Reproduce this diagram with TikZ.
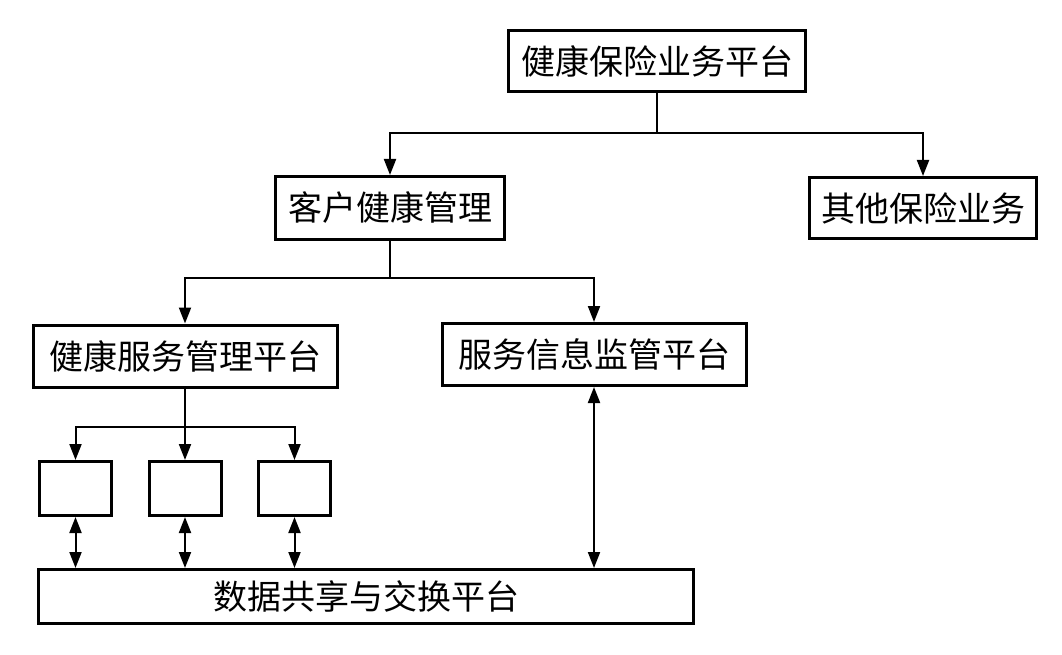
\documentclass[tikz,border=0pt]{standalone}
\usepackage{fontspec}
\setmainfont{Noto Sans CJK SC}
\usetikzlibrary{arrows.meta}
\begin{document}
\begin{tikzpicture}[x=1pt,y=-1pt,
  box/.style={draw,line width=3pt,inner sep=0pt,font=\fontsize{34}{36}\selectfont},
  conn/.style={line width=2pt},
  arr/.style={conn,-{Triangle[length=16pt,width=12pt]}},
  darr/.style={conn,{Triangle[length=16pt,width=12pt]}-{Triangle[length=16pt,width=12pt]}}]
\useasboundingbox (0,0) rectangle (1062,655);
\node[box,minimum width=297pt,minimum height=61pt] (top) at (657,61) {健康保险业务平台};
\node[box,minimum width=229pt,minimum height=63pt] (kh) at (390,208) {客户健康管理};
\node[box,minimum width=227pt,minimum height=61pt] (qt) at (923,208) {其他保险业务};
\node[box,minimum width=304pt,minimum height=62pt] (jk) at (185.5,356) {健康服务管理平台};
\node[box,minimum width=304pt,minimum height=62pt] (fw) at (594.5,354.5) {服务信息监管平台};
\node[box,minimum width=72pt,minimum height=54pt] (s1) at (75.5,488.5) {};
\node[box,minimum width=72pt,minimum height=54pt] (s2) at (185,488.5) {};
\node[box,minimum width=72pt,minimum height=54pt] (s3) at (294.5,488.5) {};
\node[box,minimum width=655pt,minimum height=54pt] (db) at (366,596.5) {数据共享与交换平台};
\coordinate (j1) at (657,133);
\coordinate (j2) at (390,278);
\coordinate (j3) at (185,427);
\draw[conn] (top.south) -- (j1);
\draw[arr] (j1) -| (kh.north);
\draw[arr] (j1) -| (qt.north);
\draw[conn] (kh.south) -- (j2);
\draw[arr] (j2) -| (jk.north -| j3);
\draw[arr] (j2) -| (fw.north -| 594,0);
\draw[conn] (jk.south -| j3) -- (j3);
\draw[arr] (j3) -| (s1.north);
\draw[arr] (j3) -- (s2.north);
\draw[arr] (j3) -| (s3.north);
\draw[darr] (s1.south) -- (s1.south |- db.north);
\draw[darr] (s2.south) -- (s2.south |- db.north);
\draw[darr] (s3.south) -- (s3.south |- db.north);
\draw[darr] (fw.south -| 594,0) -- (db.north -| 594,0);
\end{tikzpicture}
\end{document}
